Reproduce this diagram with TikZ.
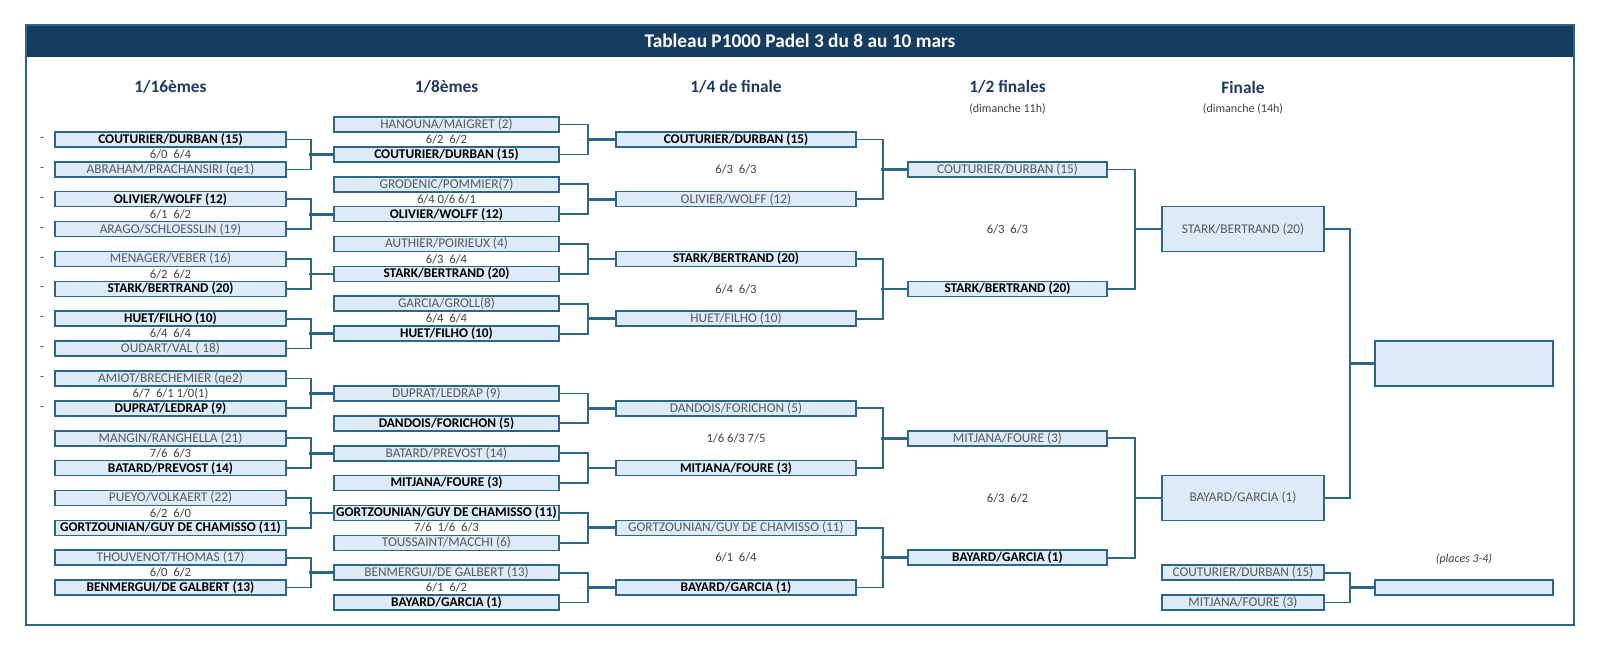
\documentclass[tikz,border=0pt]{standalone}
\usepackage{fontspec}
\setmainfont{Carlito}
\definecolor{navy}{RGB}{23,60,98}
\definecolor{edge}{RGB}{44,103,135}
\definecolor{cell}{RGB}{221,234,247}
\definecolor{head}{RGB}{31,56,100}
\definecolor{grey}{RGB}{89,89,89}
\definecolor{score}{RGB}{64,64,64}

\begin{document}
\begin{tikzpicture}[x=0.75pt,y=-0.75pt]
\tikzstyle{team}=[draw=edge, fill=cell, line width=1.2pt, minimum height=11.25pt, inner sep=0pt, text=grey, font=\fontsize{10}{11}\selectfont]
\tikzstyle{win}=[team, text=black, font=\fontsize{10}{11}\selectfont\bfseries]
\tikzstyle{w16}=[minimum width=173.25pt]
\tikzstyle{w8}=[minimum width=168.75pt]
\tikzstyle{w4}=[minimum width=180pt]
\tikzstyle{w2}=[minimum width=149.25pt]
\tikzstyle{w1}=[minimum width=121.5pt]
\tikzstyle{wf}=[minimum width=133.5pt]
\tikzstyle{tall}=[minimum height=33.75pt]
\tikzstyle{res}=[inner sep=0pt, text=score, font=\fontsize{9.5}{11}\selectfont]
\tikzstyle{round}=[inner sep=0pt, text=head, font=\fontsize{13}{15}\selectfont\bfseries]
\tikzstyle{when}=[inner sep=0pt, text=score, font=\fontsize{9}{10}\selectfont]
\tikzstyle{wire}=[draw=edge, line width=1.3pt]
\tikzstyle{link}=[draw=edge, line width=2pt]
\useasboundingbox (0,0) rectangle (1600,652);
\fill[navy] (26,25) rectangle (1574,57);
\draw[edge, line width=1.1pt] (26,25) rectangle (1574,625);
\draw (800,41) node (title) [inner sep=0pt, text=white, font=\fontsize{14.5}{16}\selectfont\bfseries] {Tableau P1000 Padel 3 du 8 au 10 mars};
\draw (170.5,87) node (h1) [round] {1/16èmes};
\draw (446.5,87) node (h2) [round] {1/8èmes};
\draw (736,87) node (h3) [round] {1/4 de finale};
\draw (1007.5,87) node (h4) [round] {1/2 finales};
\draw (1243,87) node (h5) [round] {Finale};
\draw (1007.5,109) node (t4) [when] {(dimanche 11h)};
\draw (1243,109) node (t5) [when] {(dimanche (14h)};
\draw (170.5,139.5) node (a1) [win,w16] {COUTURIER/DURBAN (15)};
\draw (170.5,169.4) node (a2) [team,w16] {ABRAHAM/PRACHANSIRI (qe1)};
\draw (170.5,199.2) node (a3) [win,w16] {OLIVIER/WOLFF (12)};
\draw (170.5,229.1) node (a4) [team,w16] {ARAGO/SCHLOESSLIN (19)};
\draw (170.5,259.0) node (a5) [team,w16] {MENAGER/VEBER (16)};
\draw (170.5,288.9) node (a6) [win,w16] {STARK/BERTRAND (20)};
\draw (170.5,318.7) node (a7) [win,w16] {HUET/FILHO (10)};
\draw (170.5,348.6) node (a8) [team,w16] {OUDART/VAL ( 18)};
\draw (170.5,378.5) node (a9) [team,w16] {AMIOT/BRECHEMIER (qe2)};
\draw (170.5,408.3) node (a10) [win,w16] {DUPRAT/LEDRAP (9)};
\draw (170.5,438.2) node (a11) [team,w16] {MANGIN/RANGHELLA (21)};
\draw (170.5,468.1) node (a12) [win,w16] {BATARD/PREVOST (14)};
\draw (170.5,498.0) node (a13) [team,w16] {PUEYO/VOLKAERT (22)};
\draw (170.5,527.8) node (a14) [win,w16] {GORTZOUNIAN/GUY DE CHAMISSO (11)};
\draw (170.5,557.7) node (a15) [team,w16] {THOUVENOT/THOMAS (17)};
\draw (170.5,587.6) node (a16) [win,w16] {BENMERGUI/DE GALBERT (13)};
\draw (42,139.5) node (m1) [res] {-};
\draw (42,169.4) node (m2) [res] {-};
\draw (42,199.2) node (m3) [res] {-};
\draw (42,229.1) node (m4) [res] {-};
\draw (42,259.0) node (m5) [res] {-};
\draw (42,288.9) node (m6) [res] {-};
\draw (42,318.7) node (m7) [res] {-};
\draw (42,348.6) node (m8) [res] {-};
\draw (42,378.5) node (m9) [res] {-};
\draw (42,408.3) node (m10) [res] {-};
\draw (170.5,154.4) node (sa1) [res] {6/0\ \ 6/4};
\draw (170.5,214.2) node (sa2) [res] {6/1\ \ 6/2};
\draw (170.5,273.9) node (sa3) [res] {6/2\ \ 6/2};
\draw (170.5,333.7) node (sa4) [res] {6/4\ \ 6/4};
\draw (170.5,393.4) node (sa5) [res] {6/7\ \ 6/1 1/0(1)};
\draw (170.5,453.2) node (sa6) [res] {7/6\ \ 6/3};
\draw (170.5,512.9) node (sa7) [res] {6/2\ \ 6/0};
\draw (170.5,572.7) node (sa8) [res] {6/0\ \ 6/2};
\draw (446.5,124.6) node (b1) [team,w8] {HANOUNA/MAIGRET (2)};
\draw (446.5,154.4) node (b2) [win,w8] {COUTURIER/DURBAN (15)};
\draw (446.5,184.3) node (b3) [team,w8] {GRODENIC/POMMIER(7)};
\draw (446.5,214.2) node (b4) [win,w8] {OLIVIER/WOLFF (12)};
\draw (446.5,244.0) node (b5) [team,w8] {AUTHIER/POIRIEUX (4)};
\draw (446.5,273.9) node (b6) [win,w8] {STARK/BERTRAND (20)};
\draw (446.5,303.8) node (b7) [team,w8] {GARCIA/GROLL(8)};
\draw (446.5,333.7) node (b8) [win,w8] {HUET/FILHO (10)};
\draw (446.5,393.4) node (b9) [team,w8] {DUPRAT/LEDRAP (9)};
\draw (446.5,423.3) node (b10) [win,w8] {DANDOIS/FORICHON (5)};
\draw (446.5,453.2) node (b11) [team,w8] {BATARD/PREVOST (14)};
\draw (446.5,483.0) node (b12) [win,w8] {MITJANA/FOURE (3)};
\draw (446.5,512.9) node (b13) [win,w8] {GORTZOUNIAN/GUY DE CHAMISSO (11)};
\draw (446.5,542.8) node (b14) [team,w8] {TOUSSAINT/MACCHI (6)};
\draw (446.5,572.7) node (b15) [team,w8] {BENMERGUI/DE GALBERT (13)};
\draw (446.5,602.5) node (b16) [win,w8] {BAYARD/GARCIA (1)};
\draw (446.5,139.5) node (sb1) [res] {6/2\ \ 6/2};
\draw (446.5,199.2) node (sb2) [res] {6/4 0/6 6/1};
\draw (446.5,259.0) node (sb3) [res] {6/3\ \ 6/4};
\draw (446.5,318.7) node (sb4) [res] {6/4\ \ 6/4};
\draw (446.5,527.8) node (sb7) [res] {7/6\ \ 1/6\ \ 6/3};
\draw (446.5,587.6) node (sb8) [res] {6/1\ \ 6/2};
\draw (736,139.5) node (c1) [win,w4] {COUTURIER/DURBAN (15)};
\draw (736,199.2) node (c2) [team,w4] {OLIVIER/WOLFF (12)};
\draw (736,259.0) node (c3) [win,w4] {STARK/BERTRAND (20)};
\draw (736,318.7) node (c4) [team,w4] {HUET/FILHO (10)};
\draw (736,408.3) node (c5) [team,w4] {DANDOIS/FORICHON (5)};
\draw (736,468.1) node (c6) [win,w4] {MITJANA/FOURE (3)};
\draw (736,527.8) node (c7) [team,w4] {GORTZOUNIAN/GUY DE CHAMISSO (11)};
\draw (736,587.6) node (c8) [win,w4] {BAYARD/GARCIA (1)};
\draw (736,169.4) node (sc1) [res] {6/3\ \ 6/3};
\draw (736,288.9) node (sc2) [res] {6/4\ \ 6/3};
\draw (736,438.2) node (sc3) [res] {1/6 6/3 7/5};
\draw (736,557.7) node (sc4) [res] {6/1\ \ 6/4};
\draw (1007.5,169.4) node (d1) [team,w2] {COUTURIER/DURBAN (15)};
\draw (1007.5,288.9) node (d2) [win,w2] {STARK/BERTRAND (20)};
\draw (1007.5,438.2) node (d3) [team,w2] {MITJANA/FOURE (3)};
\draw (1007.5,557.7) node (d4) [win,w2] {BAYARD/GARCIA (1)};
\draw (1007.5,229.1) node (sd1) [res] {6/3\ \ 6/3};
\draw (1007.5,498.0) node (sd2) [res] {6/3\ \ 6/2};
\draw (1243,229.1) node (e1) [team,w1,tall] {STARK/BERTRAND (20)};
\draw (1243,497.9) node (e2) [team,w1,tall] {BAYARD/GARCIA (1)};
\draw (1464,363.5) node (f) [team,wf,tall] {};
\draw (1243,572.7) node (p1) [team,w1] {COUTURIER/DURBAN (15)};
\draw (1243,602.5) node (p2) [team,w1] {MITJANA/FOURE (3)};
\draw (1464,587.6) node (g) [team,wf] {};
\draw (1464,559) node (t6) [when, font=\fontsize{9}{10}\selectfont\itshape] {(places 3-4)};
\draw[wire] (a1.east) -- ++(24,0) |- (a2.east);
\draw[wire] (a3.east) -- ++(24,0) |- (a4.east);
\draw[wire] (a5.east) -- ++(24,0) |- (a6.east);
\draw[wire] (a7.east) -- ++(24,0) |- (a8.east);
\draw[wire] (a9.east) -- ++(24,0) |- (a10.east);
\draw[wire] (a11.east) -- ++(24,0) |- (a12.east);
\draw[wire] (a13.east) -- ++(24,0) |- (a14.east);
\draw[wire] (a15.east) -- ++(24,0) |- (a16.east);
\draw[link] (b2.west) -- ++(-24,0);
\draw[link] (b4.west) -- ++(-24,0);
\draw[link] (b6.west) -- ++(-24,0);
\draw[link] (b8.west) -- ++(-24,0);
\draw[link] (b9.west) -- ++(-24,0);
\draw[link] (b11.west) -- ++(-24,0);
\draw[link] (b13.west) -- ++(-24,0);
\draw[link] (b15.west) -- ++(-24,0);
\draw[wire] (b1.east) -- ++(28.5,0) |- (b2.east);
\draw[wire] (b3.east) -- ++(28.5,0) |- (b4.east);
\draw[wire] (b5.east) -- ++(28.5,0) |- (b6.east);
\draw[wire] (b7.east) -- ++(28.5,0) |- (b8.east);
\draw[wire] (b9.east) -- ++(28.5,0) |- (b10.east);
\draw[wire] (b11.east) -- ++(28.5,0) |- (b12.east);
\draw[wire] (b13.east) -- ++(28.5,0) |- (b14.east);
\draw[wire] (b15.east) -- ++(28.5,0) |- (b16.east);
\draw[link] (c1.west) -- ++(-28.5,0);
\draw[link] (c2.west) -- ++(-28.5,0);
\draw[link] (c3.west) -- ++(-28.5,0);
\draw[link] (c4.west) -- ++(-28.5,0);
\draw[link] (c5.west) -- ++(-28.5,0);
\draw[link] (c6.west) -- ++(-28.5,0);
\draw[link] (c7.west) -- ++(-28.5,0);
\draw[link] (c8.west) -- ++(-28.5,0);
\draw[wire] (c1.east) -- ++(26,0) |- (c2.east);
\draw[wire] (c3.east) -- ++(26,0) |- (c4.east);
\draw[wire] (c5.east) -- ++(26,0) |- (c6.east);
\draw[wire] (c7.east) -- ++(26,0) |- (c8.east);
\draw[link] (d1.west) -- ++(-26,0);
\draw[link] (d2.west) -- ++(-26,0);
\draw[link] (d3.west) -- ++(-26,0);
\draw[link] (d4.west) -- ++(-26,0);
\draw[wire] (d1.east) -- ++(27.5,0) |- (d2.east);
\draw[wire] (d3.east) -- ++(27.5,0) |- (d4.east);
\draw[link] (e1.west) -- ++(-27.5,0);
\draw[link] (e2.west) -- ++(-27.5,0);
\draw[wire] (e1.east) -- ++(25.5,0) |- (e2.east);
\draw[wire] (p1.east) -- ++(25.5,0) |- (p2.east);
\draw[link] (f.west) -- ++(-25.5,0);
\draw[link] (g.west) -- ++(-25.5,0);
\end{tikzpicture}
\end{document}
